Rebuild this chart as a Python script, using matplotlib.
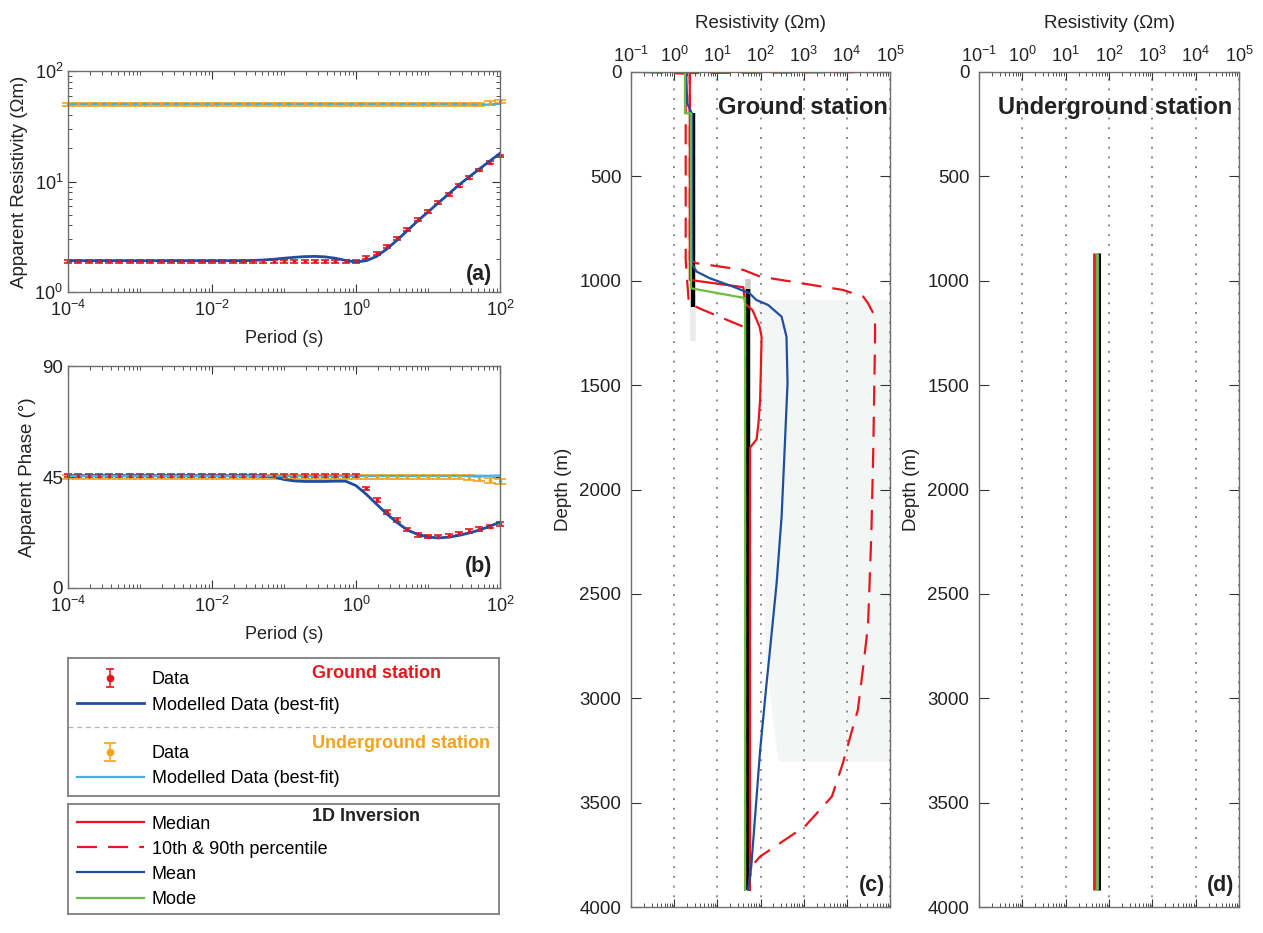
"""
MT sounding figure: apparent resistivity / phase curves for a ground and an
underground station, plus the 1D inversion depth profiles for each station.
Writes out.png
"""

import numpy as np
import matplotlib.pyplot as plt
from matplotlib.container import ErrorbarContainer
from matplotlib.legend_handler import HandlerErrorbar
from matplotlib.ticker import FixedLocator, LogLocator, NullFormatter

plt.rcParams['font.family'] = ['Liberation Sans', 'DejaVu Sans']
plt.rcParams['mathtext.fontset'] = 'custom'
plt.rcParams['mathtext.rm'] = 'Liberation Sans'
plt.rcParams['mathtext.it'] = 'Liberation Sans:italic'
plt.rcParams['mathtext.bf'] = 'Liberation Sans:bold'
plt.rcParams['axes.unicode_minus'] = False

RED = '#e8161c'
BLUE = '#1f4ea1'
ORANGE = '#f5a21c'
LBLUE = '#3fb2e8'
GREEN = '#6bbd3e'
SPINE = '#6e6e6e'
TXT = '#222222'

# ---- sounding curves (period in s) ----------------------------------------
PERIOD = [1.0e-4, 1.39e-4, 1.93e-4, 2.68e-4, 3.73e-4, 5.18e-4, 7.2e-4,
          1.0e-3, 1.39e-3, 1.93e-3, 2.68e-3, 3.73e-3, 5.18e-3, 7.2e-3,
          1.0e-2, 1.39e-2, 1.93e-2, 2.68e-2, 3.73e-2, 5.18e-2, 7.2e-2,
          1.0e-1, 1.39e-1, 1.93e-1, 2.68e-1, 3.73e-1, 5.18e-1, 7.2e-1,
          1.0, 1.39, 1.93, 2.68, 3.73, 5.18, 7.2,
          10.0, 13.9, 19.3, 26.8, 37.3, 51.8, 72.0, 100.0]

RHO_GROUND = [1.9, 1.9, 1.9, 1.9, 1.9, 1.9, 1.9,
              1.9, 1.9, 1.9, 1.9, 1.9, 1.9, 1.9,
              1.9, 1.9, 1.9, 1.9, 1.9, 1.9, 1.9,
              1.9, 1.9, 1.9, 1.9, 1.9, 1.9, 1.9,
              1.9, 2.05, 2.25, 2.6, 3.05, 3.7, 4.5,
              5.4, 6.5, 7.7, 9.2, 10.8, 12.7, 14.8, 17.0]
RHO_GROUND_FIT = [1.92, 1.92, 1.92, 1.92, 1.92, 1.92, 1.92,
                  1.92, 1.92, 1.92, 1.92, 1.92, 1.92, 1.92,
                  1.92, 1.92, 1.92, 1.92, 1.93, 1.95, 1.98,
                  2.02, 2.06, 2.09, 2.1, 2.08, 2.02, 1.93,
                  1.87, 1.92, 2.1, 2.45, 2.95, 3.6, 4.4,
                  5.3, 6.4, 7.7, 9.3, 11.0, 13.0, 15.3, 18.0]
RHO_UNDER = [50.0, 50.0, 50.0, 50.0, 50.0, 50.0, 50.0,
             50.0, 50.0, 50.0, 50.0, 50.0, 50.0, 50.0,
             50.0, 50.0, 50.0, 50.0, 50.0, 50.0, 50.0,
             50.0, 50.0, 50.0, 50.0, 50.0, 50.0, 50.0,
             50.0, 50.0, 50.0, 50.0, 50.0, 50.0, 50.0,
             50.0, 50.0, 50.0, 50.0, 50.0, 50.0, 51.5, 53.0]
RHO_UNDER_FIT = [50.3, 50.3, 50.3, 50.3, 50.3, 50.3, 50.3,
                 50.3, 50.3, 50.3, 50.3, 50.3, 50.3, 50.3,
                 50.3, 50.3, 50.3, 50.3, 50.3, 50.3, 50.3,
                 50.3, 50.3, 50.3, 50.3, 50.3, 50.3, 50.3,
                 50.3, 50.3, 50.3, 50.3, 50.3, 50.3, 50.3,
                 50.3, 50.3, 50.3, 50.2, 50.0, 49.6, 49.8, 50.5]

PHASE_GROUND = [45.5, 45.5, 45.5, 45.5, 45.5, 45.5, 45.5,
                45.5, 45.5, 45.5, 45.5, 45.5, 45.5, 45.5,
                45.5, 45.5, 45.5, 45.5, 45.5, 45.5, 45.5,
                45.5, 45.5, 45.5, 45.5, 45.5, 45.5, 45.5,
                45.5, 40.4, 35.7, 30.9, 27.6, 23.8, 21.5,
                20.8, 20.8, 21.2, 22.2, 23.1, 23.9, 24.9, 25.9]
PHASE_GROUND_FIT = [45.5, 45.5, 45.5, 45.5, 45.5, 45.5, 45.5,
                    45.5, 45.5, 45.5, 45.5, 45.5, 45.5, 45.5,
                    45.5, 45.5, 45.5, 45.5, 45.5, 45.4, 45.0,
                    44.0, 43.4, 43.2, 43.2, 43.2, 43.3, 43.3,
                    41.5, 38.0, 34.0, 30.0, 26.5, 23.5, 21.7,
                    20.7, 20.3, 20.6, 21.3, 22.3, 23.5, 25.0, 26.7]
PHASE_UNDER = [45.0, 45.0, 45.0, 45.0, 45.0, 45.0, 45.0,
               45.0, 45.0, 45.0, 45.0, 45.0, 45.0, 45.0,
               45.0, 45.0, 45.0, 45.0, 45.0, 45.0, 45.0,
               45.0, 45.0, 45.0, 45.0, 45.0, 45.0, 45.0,
               45.0, 45.0, 45.0, 45.0, 45.0, 45.0, 45.0,
               45.0, 45.0, 45.0, 45.0, 44.7, 44.2, 43.6, 43.3]
PHASE_UNDER_FIT = [45.4, 45.4, 45.4, 45.4, 45.4, 45.4, 45.4,
                   45.4, 45.4, 45.4, 45.4, 45.4, 45.4, 45.4,
                   45.4, 45.4, 45.4, 45.4, 45.4, 45.4, 45.4,
                   45.4, 45.4, 45.4, 45.4, 45.4, 45.4, 45.4,
                   45.4, 45.4, 45.4, 45.4, 45.4, 45.4, 45.4,
                   45.4, 45.4, 45.4, 45.4, 45.4, 45.5, 45.5, 45.6]

RHO_REL_ERR_GROUND = 0.03
RHO_REL_ERR_UNDER = 0.035
PHASE_ERR_GROUND = 0.7
PHASE_ERR_UNDER = 1.0

# ---- 1D inversion, ground station (depth m, resistivity ohm-m) -------------
MEDIAN_DEPTH = [0, 996, 1031, 1110, 1140, 1220, 1270, 1460, 1570, 1680, 1760, 1800, 3918]
MEDIAN_RES = [2.3, 2.3, 40, 44, 65, 95, 106, 101, 98, 90, 81, 57, 57]

P10_DEPTH = [0, 8, 900, 1000, 1110, 1140, 1220, 1240, 3918]
P10_RES = [0.19, 1.85, 1.85, 2.0, 2.2, 4.7, 40, 44, 44]

P90_DEPTH = [0, 5, 900, 916, 948, 980, 1044, 1076, 1108, 1172, 1283, 1810, 2210,
             2650, 2848, 3056, 3135, 3311, 3471, 3614, 3758, 3806, 3918]
P90_RES = [80000, 2.3, 2.3, 3.3, 40, 98, 8100, 24000, 31000, 45000, 45000, 41000,
           37000, 31000, 24000, 18000, 14000, 8100, 4500, 1070, 98, 62, 52]

MEAN_DEPTH = [0, 150, 200, 920, 956, 988, 1028, 1060, 1092, 1116, 1172, 1268, 1490,
              1810, 2130, 2450, 2768, 2930, 3250, 3490, 3806, 3918]
MEAN_RES = [1.9, 2.0, 2.6, 2.6, 3.3, 6.7, 23, 56, 80, 150, 308, 400, 423,
            362, 308, 236, 166, 138, 98, 80, 61, 52]

MODE_DEPTH = [0, 198, 198, 1036, 1083, 3918]
MODE_RES = [1.78, 1.78, 2.45, 2.45, 44, 44]

BEST_UPPER_DEPTH = [198, 1124]
BEST_UPPER_RES = [2.76, 2.76]
BEST_LOWER_DEPTH = [1040, 3918]
BEST_LOWER_RES = [52, 52]
HALO_UPPER_DEPTH = [1124, 1290]
HALO_LOWER_DEPTH = [990, 1150]

SHADE_DEPTH = [1090, 1300, 1800, 2300, 2800, 3300]
SHADE_LEFT = [85, 105, 110, 110, 130, 250]
SHADE_RIGHT = [1e5, 1e5, 1e5, 1e5, 1e5, 1e5]

# ---- 1D inversion, underground station -------------------------------------
UG_DEPTH = [867, 3918]
UG_MEDIAN = [44, 44]
UG_MEAN = [53.5, 53.5]
UG_MODE = [53.5, 53.5]
UG_BEST = [60, 60]

W, H = 1263, 933
fig = plt.figure(figsize=(W / 100, H / 100), dpi=100)


def px_axes(left, top, right, bottom):
    return fig.add_axes([left / W, 1 - bottom / H, (right - left) / W, (bottom - top) / H])


def style(ax, labelsize=13.5):
    for s in ax.spines.values():
        s.set_color(SPINE)
        s.set_linewidth(1.0)
    ax.tick_params(which='both', direction='in', top=True, right=True,
                   color='#333333', labelcolor=TXT, labelsize=labelsize)
    ax.tick_params(which='major', length=6, width=0.8)
    ax.tick_params(which='minor', length=3, width=0.6)


def log_period_axis(ax):
    ax.set_xscale('log')
    ax.set_xlim(1e-4, 1e2)
    ax.xaxis.set_major_locator(FixedLocator([1e-4, 1e-2, 1e0, 1e2]))
    ax.xaxis.set_minor_locator(LogLocator(base=10, subs=np.arange(1, 10), numticks=50))
    ax.xaxis.set_minor_formatter(NullFormatter())
    ax.set_xlabel('Period (s)', fontsize=13, color=TXT)
    ax.xaxis.set_label_coords(0.5, -0.17)
    ax.tick_params(axis='x', which='major', pad=6, labelsize=13)


def unclip(eb):
    data_line, caps, bars = eb.lines
    for art in [data_line, *caps, *bars]:
        if art is not None:
            art.set_clip_on(False)


def errbars(ax, y, err, color, capsize):
    eb = ax.errorbar(PERIOD, y, yerr=err, fmt='o', ms=1.6, color=color, ecolor=color,
                     elinewidth=1.1, capsize=capsize, capthick=1.2)
    unclip(eb)
    return eb


# ---- (a) apparent resistivity ---------------------------------------------
ax_a = px_axes(68, 71, 500, 292)
style(ax_a)
eb_u = errbars(ax_a, RHO_UNDER, np.array(RHO_UNDER) * RHO_REL_ERR_UNDER, ORANGE, 4.2)
eb_g = errbars(ax_a, RHO_GROUND, np.array(RHO_GROUND) * RHO_REL_ERR_GROUND, RED, 3.2)
fit_g, = ax_a.plot(PERIOD, RHO_GROUND_FIT, color=BLUE, lw=2.0)
fit_u, = ax_a.plot(PERIOD, RHO_UNDER_FIT, color=LBLUE, lw=1.6)
log_period_axis(ax_a)
ax_a.set_yscale('log')
ax_a.set_ylim(1, 100)
ax_a.yaxis.set_minor_locator(LogLocator(base=10, subs=np.arange(2, 10), numticks=20))
ax_a.yaxis.set_minor_formatter(NullFormatter())
ax_a.tick_params(axis='y', which='major', labelsize=13)
ax_a.set_ylabel('Apparent Resistivity (\u03a9m)', fontsize=13.5, color=TXT)
ax_a.yaxis.set_label_coords(-0.093, 0.5)
ax_a.text(0.982, 0.077, '(a)', transform=ax_a.transAxes, ha='right', va='center',
          fontsize=15.5, fontweight='bold', color=TXT)

# ---- (b) apparent phase ---------------------------------------------------
ax_b = px_axes(68, 366, 500, 588)
style(ax_b)
errbars(ax_b, PHASE_UNDER, PHASE_ERR_UNDER, ORANGE, 4.2)
errbars(ax_b, PHASE_GROUND, PHASE_ERR_GROUND, RED, 3.2)
ax_b.plot(PERIOD, PHASE_GROUND_FIT, color=BLUE, lw=2.0)
ax_b.plot(PERIOD, PHASE_UNDER_FIT, color=LBLUE, lw=1.6)
log_period_axis(ax_b)
ax_b.set_ylim(0, 90)
ax_b.set_yticks([0, 45, 90])
ax_b.set_ylabel('Apparent Phase (\u00b0)', fontsize=13.5, color=TXT)
ax_b.yaxis.set_label_coords(-0.075, 0.5)
ax_b.text(0.982, 0.096, '(b)', transform=ax_b.transAxes, ha='right', va='center',
          fontsize=15.5, fontweight='bold', color=TXT)


# ---- (c), (d) depth profiles ----------------------------------------------
def depth_axis(ax, title, letter, title_x):
    style(ax)
    ax.set_xscale('log')
    ax.set_xlim(1e-1, 1e5)
    ax.set_ylim(4000, 0)
    ax.xaxis.set_major_locator(FixedLocator([1e-1, 1e0, 1e1, 1e2, 1e3, 1e4, 1e5]))
    ax.xaxis.set_minor_locator(LogLocator(base=10, subs=np.arange(2, 10), numticks=50))
    ax.xaxis.set_minor_formatter(NullFormatter())
    ax.set_yticks(np.arange(0, 4001, 500))
    ax.tick_params(axis='x', which='both', labeltop=True, labelbottom=False)
    ax.tick_params(axis='x', which='major', labelsize=13, pad=4)
    ax.tick_params(axis='y', which='major', length=7, pad=7)
    ax.xaxis.set_label_position('top')
    ax.set_xlabel('Resistivity (\u03a9m)', fontsize=13.5, color=TXT)
    ax.xaxis.set_label_coords(0.5, 1.053)
    ax.set_ylabel('Depth (m)', fontsize=13.5, color=TXT)
    ax.yaxis.set_label_coords(-0.228, 0.5)
    ax.grid(axis='x', which='major', color='#8a8a8a', lw=1.4, ls=(0, (1, 4)))
    ax.text(title_x, 0.957, title, transform=ax.transAxes, ha='right', va='center',
            fontsize=17, fontweight='bold', color=TXT, zorder=10)
    ax.text(0.98, 0.026, letter, transform=ax.transAxes, ha='right', va='center',
            fontsize=15.5, fontweight='bold', color=TXT, zorder=10)


ax_c = px_axes(631, 72, 890, 907)
depth_axis(ax_c, 'Ground station', '(c)', 0.99)
ax_c.fill_betweenx(SHADE_DEPTH, SHADE_LEFT, SHADE_RIGHT, color='#f4f6f6', lw=0, zorder=0.2)
ax_c.plot(BEST_UPPER_RES[:1] * 2, HALO_UPPER_DEPTH, color='#b0b0b0', lw=4, alpha=0.25,
          solid_capstyle='butt')
ax_c.plot(BEST_LOWER_RES[:1] * 2, HALO_LOWER_DEPTH, color='#7a7a7a', lw=4, alpha=0.4,
          solid_capstyle='butt')
ax_c.plot(BEST_UPPER_RES, BEST_UPPER_DEPTH, color='black', lw=3.2, solid_capstyle='butt')
ax_c.plot(BEST_LOWER_RES, BEST_LOWER_DEPTH, color='black', lw=3.2, solid_capstyle='butt')
p10_line, = ax_c.plot(P10_RES, P10_DEPTH, color=RED, lw=1.6, dashes=(9, 5))
ax_c.plot(P90_RES, P90_DEPTH, color=RED, lw=1.6, dashes=(9, 5))
med_line, = ax_c.plot(MEDIAN_RES, MEDIAN_DEPTH, color=RED, lw=1.6)
mean_line, = ax_c.plot(MEAN_RES, MEAN_DEPTH, color=BLUE, lw=1.6)
mode_line, = ax_c.plot(MODE_RES, MODE_DEPTH, color=GREEN, lw=1.6)

ax_d = px_axes(979, 72, 1239, 907)
depth_axis(ax_d, 'Underground station', '(d)', 0.975)
ax_d.plot(UG_BEST, UG_DEPTH, color='black', lw=2.2, solid_capstyle='butt')
ax_d.plot(UG_MEDIAN, UG_DEPTH, color=RED, lw=2.0, solid_capstyle='butt')
ax_d.plot(UG_MEAN, UG_DEPTH, color=BLUE, lw=2.0, solid_capstyle='butt')
ax_d.plot(UG_MODE, UG_DEPTH, color=GREEN, lw=2.0, solid_capstyle='butt')


# ---- legend boxes ---------------------------------------------------------
def bigger_marker(handle, orig):
    # copy the plot style, but give the legend dot a readable size
    handle.update_from(orig)
    if hasattr(handle, 'get_marker') and handle.get_marker() == 'o':
        handle.set_markersize(4.5)


leg_kw = dict(frameon=False, borderpad=0, borderaxespad=0, handlelength=3.7,
              handletextpad=0.45, labelspacing=0.45, fontsize=13, numpoints=1,
              loc='center left',
              handler_map={ErrorbarContainer: HandlerErrorbar(update_func=bigger_marker)})


def box_axes(left, top, right, bottom):
    ax = px_axes(left, top, right, bottom)
    ax.set_xticks([])
    ax.set_yticks([])
    ax.set_xlim(0, 1)
    ax.set_ylim(0, 1)
    for s in ax.spines.values():
        s.set_color('#7f7f7f')
        s.set_linewidth(1.3)
    return ax


box1 = box_axes(68, 658, 499, 796)
box1.axhline(0.5, color='#b5b5b5', lw=0.9, ls=(0, (4, 3)))
lg1 = box1.legend([eb_g, fit_g], ['Data', 'Modelled Data (best-fit)'],
                  bbox_to_anchor=(0.021, 0.75), **leg_kw)
box1.add_artist(lg1)
box1.legend([eb_u, fit_u], ['Data', 'Modelled Data (best-fit)'],
            bbox_to_anchor=(0.021, 0.215), **leg_kw)
box1.text(0.566, 0.891, 'Ground station', color=RED, fontsize=13, fontweight='bold',
          va='center', transform=box1.transAxes)
box1.text(0.566, 0.384, 'Underground station', color=ORANGE, fontsize=13,
          fontweight='bold', va='center', transform=box1.transAxes)

box2 = box_axes(68, 804, 499, 914)
box2.legend([med_line, p10_line, mean_line, mode_line],
            ['Median', '10th & 90th percentile', 'Mean', 'Mode'],
            bbox_to_anchor=(0.021, 0.475), **leg_kw)
box2.text(0.566, 0.882, '1D Inversion', color=TXT, fontsize=13, fontweight='bold',
          va='center', transform=box2.transAxes)

fig.savefig('out.png', dpi=100)
